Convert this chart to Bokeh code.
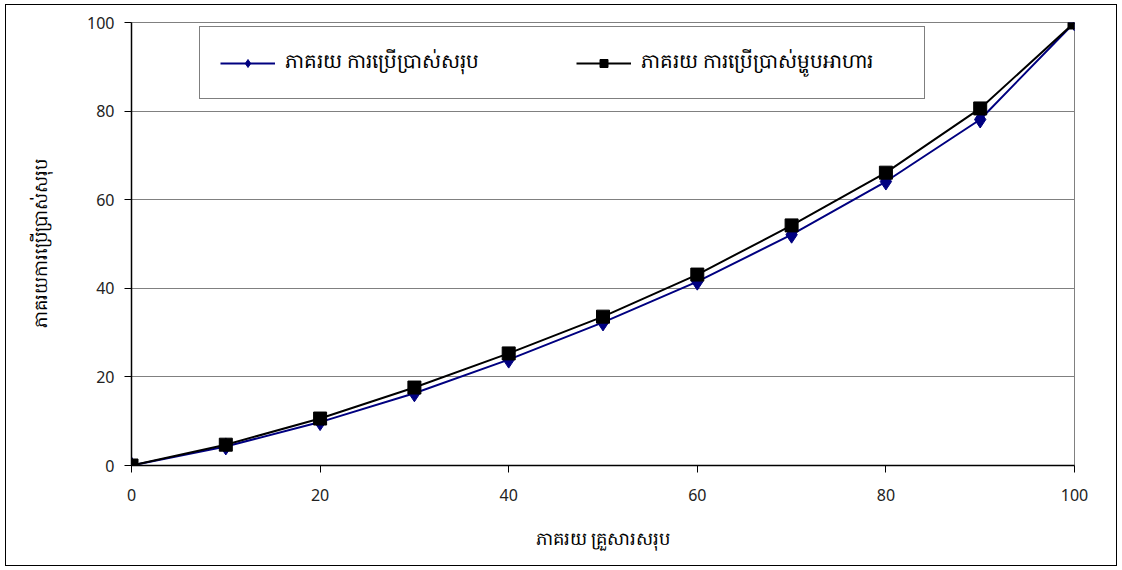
from bokeh.plotting import figure
from bokeh.models import Legend, LegendItem, Range1d, FixedTicker
from bokeh.embed import file_html
from bokeh.resources import INLINE

x_pct = [0, 10, 20, 30, 40, 50, 60, 70, 80, 90, 100]
total_use = [0, 4.3, 9.8, 16.3, 23.9, 32.3, 41.5, 52.1, 64.1, 78.1, 100]
food_use = [0, 4.7, 10.6, 17.6, 25.3, 33.6, 43.1, 54.2, 66.1, 80.6, 100]
ticks = [0, 20, 40, 60, 80, 100]

name_total = "ភាគរយ ការប្រើប្រាស់សរុប"
name_food = "ភាគរយ ការប្រើប្រាស់ម្ហូបអាហារ"
x_title = "ភាគរយ គ្រួសារសរុប"
y_title = "ភាគរយការប្រើប្រាស់សរុប"

FONT = "Noto Sans"

p = figure(width=1112, height=562, output_backend="svg", toolbar_location=None,
           min_border_left=125, min_border_right=44, min_border_top=17, min_border_bottom=102,
           x_range=Range1d(0, 100), y_range=Range1d(0, 100))
p.margin = (4, 5, 4, 5)
p.styles = {"border": "1px solid black", "box-sizing": "border-box"}
p.background_fill_color = "white"
p.border_fill_color = "white"
p.outline_line_color = "#808080"
p.outline_line_width = 1

p.xgrid.grid_line_color = None
p.ygrid.grid_line_color = "#808080"
p.ygrid.grid_line_width = 1

for ax in (p.xaxis[0], p.yaxis[0]):
    ax.ticker = FixedTicker(ticks=ticks)
    ax.axis_line_color = "black"
    ax.axis_line_width = 1.5
    ax.major_tick_line_color = "black"
    ax.major_tick_out = 7
    ax.major_tick_in = 0
    ax.minor_tick_line_color = None
    ax.major_label_text_font = FONT
    ax.major_label_text_font_size = "16px"
    ax.major_label_text_color = "#222222"
    ax.axis_label_text_font = FONT
    ax.axis_label_text_font_size = "18px"
    ax.axis_label_text_font_style = "normal"
    ax.axis_label_text_color = "black"

p.xaxis[0].axis_label = x_title
p.xaxis[0].major_label_standoff = 16
p.xaxis[0].axis_label_standoff = 22
p.yaxis[0].axis_label = y_title
p.yaxis[0].major_label_standoff = 10
p.yaxis[0].axis_label_standoff = 32

l1 = p.line(x_pct, total_use, line_color="#000080", line_width=2)
m1 = p.scatter(x_pct, total_use, marker="diamond", size=17, fill_color="#000080", line_color="#000080")
l2 = p.line(x_pct, food_use, line_color="black", line_width=2)
m2 = p.scatter(x_pct, food_use, marker="square", size=13, fill_color="black", line_color="black")

legend = Legend(items=[LegendItem(label=name_total, renderers=[l1, m1]),
                       LegendItem(label=name_food, renderers=[l2, m2])],
                orientation="horizontal", location=(68, 366),
                border_line_color="black", border_line_width=1,
                background_fill_color="white", background_fill_alpha=1,
                glyph_width=55, glyph_height=20, label_standoff=10,
                label_width=263, padding=20, margin=0, spacing=28,
                label_text_font=FONT, label_text_font_size="20px",
                label_text_color="black")
p.add_layout(legend)

open("out.html", "w").write(file_html(p, INLINE))
